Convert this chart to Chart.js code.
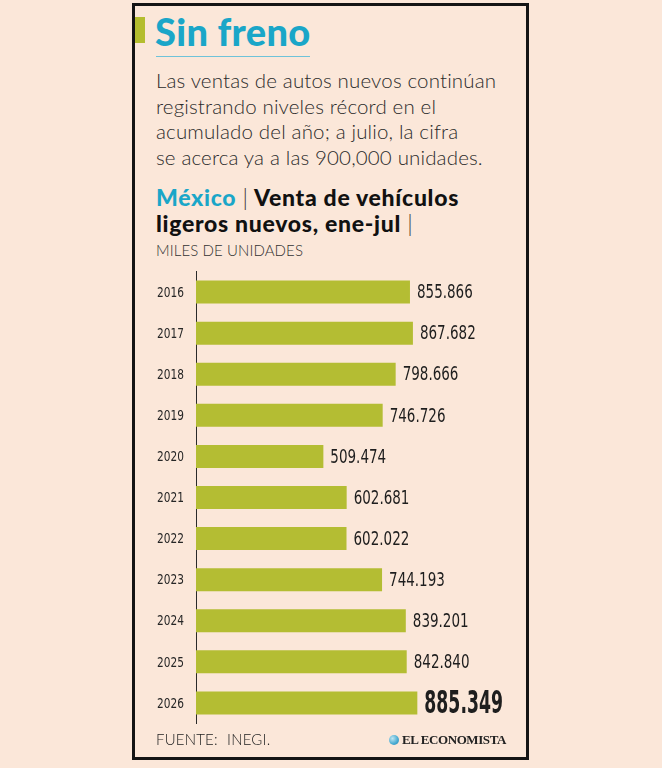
<!DOCTYPE html>
<html lang="es">
<head>
<meta charset="utf-8">
<title>Sin freno</title>
<script src="https://cdn.jsdelivr.net/npm/chart.js@4.4.1/dist/chart.umd.min.js"></script>
<style>
    html, body {
        margin: 0;
        padding: 0;
        width: 662px;
        height: 768px;
        background: #fbe7d9;
        overflow: hidden;
    }
    .frame {
        position: absolute;
        left: 132px;
        top: 3px;
        width: 397px;
        height: 757px;
        box-sizing: border-box;
        border: 3px solid #141414;
    }
    .accent {
        position: absolute;
        left: 135px;
        top: 17px;
        width: 10px;
        height: 26px;
        background: #b4bd2e;
    }
    .title {
        position: absolute;
        left: 155px;
        top: 9px;
        font-family: Lato, sans-serif;
        font-weight: 900;
        font-size: 38px;
        letter-spacing: 0.3px;
        color: #1aa6c8;
        margin: 0;
        line-height: 44px;
    }
    .rule {
        position: absolute;
        left: 156px;
        top: 56px;
        width: 154px;
        height: 1px;
        background: #6fc3d9;
    }
    .lead {
        position: absolute;
        left: 156px;
        top: 68px;
        width: 370px;
        font-family: Lato, sans-serif;
        font-weight: 300;
        font-size: 20.5px;
        letter-spacing: 0.15px;
        line-height: 25.5px;
        color: #2b2b2b;
        margin: 0;
    }
    .sub {
        position: absolute;
        left: 156px;
        top: 184px;
        font-family: Lato, sans-serif;
        font-weight: 900;
        font-size: 23px;
        letter-spacing: 0.7px;
        line-height: 26px;
        color: #111;
        margin: 0;
    }
    .sub .place { color: #1aa6c8; }
    .sub .bar { font-weight: 300; color: #333; }
    .units {
        position: absolute;
        left: 156px;
        top: 241px;
        font-family: Lato, sans-serif;
        font-weight: 300;
        font-size: 15px;
        letter-spacing: 0.1px;
        color: #333;
    }
    .source {
        position: absolute;
        left: 156px;
        top: 730px;
        font-family: Lato, sans-serif;
        font-weight: 300;
        font-size: 15px;
        color: #222;
        word-spacing: 5px;
        letter-spacing: 0.2px;
    }
    .brand {
        position: absolute;
        left: 389px;
        top: 732px;
        font-family: "Liberation Serif", serif;
        font-weight: bold;
        font-size: 13px;
        color: #222;
        letter-spacing: -0.4px;
    }
    .brand i {
        display: inline-block;
        width: 10px;
        height: 10px;
        border-radius: 50%;
        background: radial-gradient(circle at 35% 35%, #bfe6f2 0, #45a9d0 60%, #2a86b6 100%);
        margin-right: 3px;
        vertical-align: -1px;
    }
    .chart-box {
        position: absolute;
        left: 140px;
        top: 265px;
        width: 380px;
        height: 470px;
    }
</style>
</head>
<body>
<div class="frame"></div>
<div class="accent"></div>
<h1 class="title">Sin freno</h1>
<div class="rule"></div>
<p class="lead">Las ventas de autos nuevos continúan<br>registrando niveles récord en el<br>acumulado del año; a julio, la cifra<br>se acerca ya a las 900,000 unidades.</p>
<p class="sub"><span class="place">México</span> <span class="bar">|</span> Venta de vehículos<br>ligeros nuevos, ene-jul <span class="bar">|</span></p>
<div class="units">MILES DE UNIDADES</div>
<div class="chart-box"><canvas id="salesChart"></canvas></div>
<div class="source">FUENTE: INEGI.</div>
<div class="brand"><i></i>EL ECONOMISTA</div>

<script>
// Years (categories) and sales in thousands of units, jan-jul
const years = ['2016', '2017', '2018', '2019', '2020', '2021', '2022', '2023', '2024', '2025', '2026'];
const sales = [855.866, 867.682, 798.666, 746.726, 509.474, 602.681, 602.022, 744.193, 839.201, 842.840, 885.349];
const salesLabels = ['855.866', '867.682', '798.666', '746.726', '509.474', '602.681', '602.022', '744.193', '839.201', '842.840', '885.349'];

const narrowFont = '"DejaVu Sans Condensed", "Liberation Sans", sans-serif';

// draw text squeezed horizontally, the installed fonts are too wide
function narrowText(ctx, text, x, y, squeeze) {
    ctx.save();
    ctx.translate(x, y);
    ctx.scale(squeeze, 1);
    ctx.fillText(text, 0, 0);
    ctx.restore();
}

// Year labels and bar values, both in a condensed look
const narrowLabels = {
    id: 'narrowLabels',
    afterDatasetsDraw(chart) {
        const ctx = chart.ctx;
        const yScale = chart.scales.y;
        const meta = chart.getDatasetMeta(0);
        ctx.save();
        ctx.textBaseline = 'middle';

        // years, right aligned before the axis line
        ctx.fillStyle = '#262626';
        ctx.textAlign = 'right';
        ctx.font = '14px ' + narrowFont;
        yScale.ticks.forEach((tick, i) => {
            narrowText(ctx, chart.data.labels[i], yScale.right - 12, yScale.getPixelForTick(i) + 1, 0.84);
        });

        // values at the end of each bar, last one big and bold
        ctx.fillStyle = '#1e1e1e';
        ctx.textAlign = 'left';
        meta.data.forEach((bar, i) => {
            const last = i === meta.data.length - 1;
            ctx.font = (last ? 'bold 32px ' : '20px ') + narrowFont;
            narrowText(ctx, salesLabels[i], bar.x + 7, bar.y + (last ? 2 : 1), last ? 0.6 : 0.75);
        });
        ctx.restore();
    }
};

new Chart(document.getElementById('salesChart'), {
    type: 'bar',
    data: {
        labels: years,
        datasets: [{
            data: sales,
            backgroundColor: '#b4bd33',
            borderWidth: 0,
            barPercentage: 0.56,
            categoryPercentage: 1
        }]
    },
    options: {
        indexAxis: 'y',
        responsive: true,
        maintainAspectRatio: false,
        animation: false,
        layout: {
            padding: { top: 6.5, bottom: 11.5, right: 24, left: 0 }
        },
        scales: {
            x: {
                display: false,
                min: 0,
                max: 1200
            },
            y: {
                afterFit(scale) {
                    scale.width = 56;
                },
                grid: {
                    display: false,
                    drawTicks: false
                },
                border: {
                    display: true,
                    color: '#2a2a2a',
                    width: 1
                },
                ticks: {
                    display: false
                }
            }
        },
        plugins: {
            legend: { display: false },
            tooltip: { enabled: false }
        }
    },
    plugins: [narrowLabels]
});
</script>
</body>
</html>
